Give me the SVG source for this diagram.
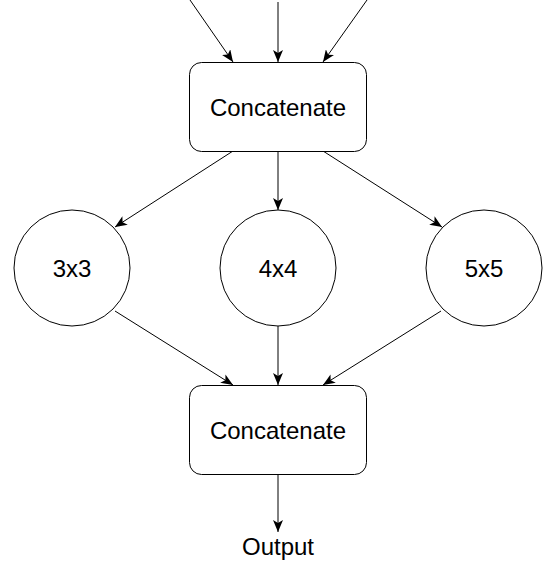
<svg xmlns="http://www.w3.org/2000/svg" width="545" height="563" viewBox="0 0 545 563">
  <style>
    .box { fill: #ffffff; stroke: #000000; stroke-width: 1; }
    .edge { fill: none; stroke: #000000; stroke-width: 1; marker-end: url(#arrow); }
    .label { font-family: "Liberation Sans", Arial, Helvetica, sans-serif; font-size: 24px; fill: #000000; text-anchor: middle; }
  </style>
  <defs>
    <marker id="arrow" viewBox="0 0 12 10" refX="12" refY="5" markerWidth="12" markerHeight="10" markerUnits="userSpaceOnUse" orient="auto">
      <path d="M0,0 L12,5 L0,10 L3,5 Z" fill="#000000"/>
    </marker>
  </defs>
  <rect width="545" height="563" fill="#ffffff"/>

  <!-- connectors -->
  <g id="connectors">
    <line class="edge" x1="190" y1="0" x2="233" y2="62"/>
    <line class="edge" x1="278" y1="2" x2="278" y2="62"/>
    <line class="edge" x1="367" y1="0" x2="323" y2="62"/>

    <line class="edge" x1="233" y1="151" x2="115" y2="227"/>
    <line class="edge" x1="278" y1="151" x2="278" y2="210"/>
    <line class="edge" x1="323" y1="151" x2="442" y2="227"/>

    <line class="edge" x1="115" y1="311" x2="233" y2="385"/>
    <line class="edge" x1="278" y1="326" x2="278" y2="385"/>
    <line class="edge" x1="441" y1="311" x2="323" y2="385"/>

    <line class="edge" x1="278" y1="474" x2="278" y2="532"/>
  </g>

  <!-- upper merge -->
  <g id="concat-top">
    <rect class="box" x="189.5" y="62.5" width="177" height="89" rx="12" ry="12"/>
    <text class="label" x="278" y="116">Concatenate</text>
  </g>

  <!-- parallel kernels -->
  <g id="conv-3x3">
    <circle class="box" cx="72" cy="268" r="58"/>
    <text class="label" x="72" y="277">3x3</text>
  </g>
  <g id="conv-4x4">
    <circle class="box" cx="278" cy="268" r="58"/>
    <text class="label" x="278" y="277">4x4</text>
  </g>
  <g id="conv-5x5">
    <circle class="box" cx="484" cy="268" r="58"/>
    <text class="label" x="484" y="277">5x5</text>
  </g>

  <!-- lower merge -->
  <g id="concat-bottom">
    <rect class="box" x="189.5" y="385.5" width="177" height="89" rx="12" ry="12"/>
    <text class="label" x="278" y="439">Concatenate</text>
  </g>

  <g id="output">
    <text class="label" x="278" y="555">Output</text>
  </g>
</svg>
